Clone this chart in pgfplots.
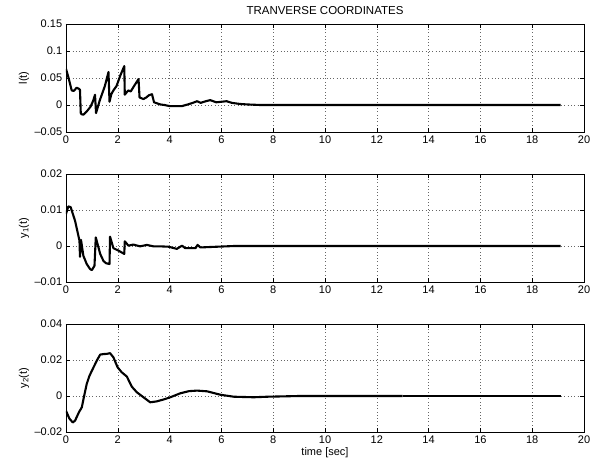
\documentclass[border=0pt]{standalone}
\usepackage{fontspec}
\setmainfont{Liberation Sans}
\usepackage{pgfplots}
\pgfplotsset{compat=1.18}
\pgfplotsset{
  mlab/.style={
    scale only axis, width=518pt, height=108pt,
    xmin=0, xmax=20, xtick={0,2,...,20},
    tick align=inside, major tick length=4pt,
    xtick pos=both, ytick pos=both,
    scaled ticks=false,
    grid=major, major grid style={black!60, line width=0.6pt, dash pattern=on 0.7pt off 2.6pt},
    axis line style={line width=0.7pt}, every tick/.style={black, line width=0.6pt},
    tick label style={font=\fontsize{11}{13}\selectfont},
    label style={font=\fontsize{11}{13}\selectfont},
    /pgf/number format/assume math mode=true,
    ylabel style={at={(axis description cs:-0.0811,0.5)}, anchor=center},
  },
  curve/.style={black, line width=2.1pt, line join=round, no markers},
}
\begin{document}
\fontsize{11}{13}\selectfont
\begin{tikzpicture}
\path (0,0) rectangle (605pt,466pt);
\node[anchor=base, font=\fontsize{11.5}{13}\selectfont] at (325pt,451pt) {TRANVERSE COORDINATES};
% ---- l(t)
\begin{axis}[mlab, at={(66pt,334pt)}, anchor=south west,
  ymin=-0.05, ymax=0.15, ytick={-0.05,0,0.05,0.1,0.15},
  yticklabels={--0.05,0,0.05,0.1,0.15},
  ylabel={l(t)}]
\addplot[curve] coordinates {
(0,0.067) (0.1,0.05) (0.22,0.027) (0.3,0.026) (0.41,0.032) (0.5,0.030) (0.54,0.028)
(0.57,-0.015) (0.6,-0.017) (0.67,-0.018) (0.8,-0.012) (0.95,-0.003) (1.05,0.008) (1.12,0.019)
(1.16,-0.015) (1.3,0.008) (1.5,0.035) (1.64,0.061)
(1.68,0.006) (1.75,0.02) (1.83,0.027) (1.95,0.035) (2.1,0.055) (2.25,0.072)
(2.27,0.019) (2.35,0.024) (2.41,0.027) (2.5,0.025) (2.6,0.033) (2.8,0.048)
(2.84,0.014) (2.99,0.011) (3.1,0.014) (3.2,0.018) (3.32,0.020)
(3.4,0.005) (3.64,0.001) (3.8,0.000) (4.0,-0.002) (4.2,-0.002) (4.48,-0.002)
(4.7,0.001) (4.9,0.004) (5.06,0.007) (5.2,0.004) (5.4,0.007) (5.57,0.009)
(5.8,0.005) (6.0,0.006) (6.2,0.007) (6.4,0.004) (6.7,0.002) (7.0,0.001)
(7.5,0.000) (8,0.000) (10,0.000) (12,0.000) (14,0.000) (16,0.000) (19.1,0.000)
};
\end{axis}
% ---- y1(t)
\begin{axis}[mlab, at={(66pt,184pt)}, anchor=south west,
  ymin=-0.01, ymax=0.02, ytick={-0.01,0,0.01,0.02},
  yticklabels={--0.01,0,0.01,0.02},
  ylabel={y\textsubscript{1}(t)}]
\addplot[curve] coordinates {
(0,0.0089) (0.09,0.011) (0.18,0.0108) (0.35,0.007) (0.52,0.0015)
(0.54,-0.003) (0.58,0.0017) (0.67,-0.0027) (0.8,-0.005) (0.93,-0.0064) (1.0,-0.0067)
(1.1,-0.0055) (1.15,0.0024) (1.32,-0.0022) (1.45,-0.0042) (1.55,-0.0048) (1.68,-0.005)
(1.7,0.0026) (1.83,-0.0006) (2.03,-0.0013) (2.25,-0.0022)
(2.27,0.0013) (2.41,0.0001) (2.6,0.0004) (2.86,-0.0001) (3.12,0.0003) (3.38,-0.0001)
(3.64,-0.0001) (3.96,-0.0002) (4.28,-0.0008) (4.48,0.0001) (4.6,-0.0006) (5.0,-0.0006)
(5.08,0.0003) (5.19,-0.0004) (5.83,-0.0002) (6.5,0.0) (8,0.0) (12,0.0) (16,0.0) (19.1,0.0)
};
\end{axis}
% ---- y2(t)
\begin{axis}[mlab, at={(66pt,34pt)}, anchor=south west,
  ymin=-0.02, ymax=0.04, ytick={-0.02,0,0.02,0.04},
  yticklabels={--0.02,0,0.02,0.04},
  ylabel={y\textsubscript{2}(t)}, xlabel={time [sec]},
  xlabel style={yshift=4pt}]
\addplot[curve] coordinates {
(0,-0.0082) (0.13,-0.0125) (0.26,-0.0147) (0.35,-0.0137) (0.5,-0.009) (0.61,-0.0063)
(0.7,0.0) (0.8,0.0067) (0.9,0.011) (1.0,0.0141) (1.1,0.017) (1.19,0.0197) (1.32,0.023)
(1.45,0.0233) (1.57,0.0234) (1.7,0.0238) (1.83,0.0215) (1.99,0.016) (2.15,0.0132)
(2.35,0.0108) (2.54,0.0052) (2.74,0.002) (2.99,-0.0007) (3.25,-0.0035) (3.5,-0.003)
(3.8,-0.0018) (4.03,-0.0007) (4.41,0.0015) (4.75,0.0027) (5.06,0.003) (5.45,0.0026)
(5.96,0.0007) (6.48,-0.0004) (7.25,-0.0007) (7.77,-0.0004) (8.4,-0.0002) (9,0.0) (11,0.0) (13,0.0)
};
\addplot[curve, line width=2.8pt] coordinates {(13,0.0) (15,0.0) (17,0.0) (19.1,0.0)};
\end{axis}
\end{tikzpicture}
\end{document}
